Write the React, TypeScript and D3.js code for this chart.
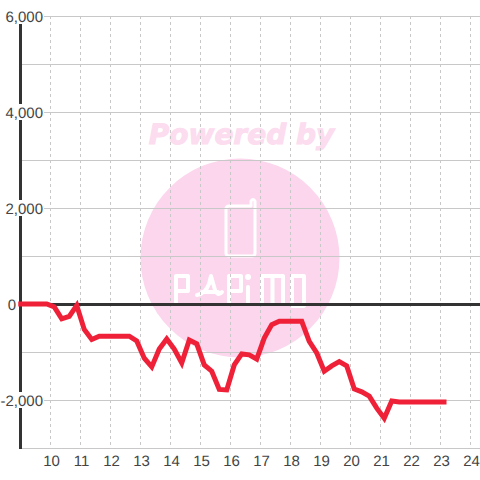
import React from "react";
import * as d3 from "d3";

const hours = [8.925, 9.875, 10.125, 10.375, 10.625, 10.875, 11.125, 11.375, 11.625, 12.625, 12.875, 13.125, 13.375, 13.625, 13.875, 14.125, 14.375, 14.625, 14.875, 15.125, 15.375, 15.625, 15.875, 16.125, 16.375, 16.625, 16.875, 17.125, 17.375, 17.625, 18.375, 18.625, 18.875, 19.125, 19.375, 19.625, 19.875, 20.125, 20.375, 20.625, 20.875, 21.125, 21.375, 21.625, 23.2];
const profit = [0, 0, -60, -310, -260, -30, -530, -740, -670, -670, -770, -1130, -1310, -940, -730, -940, -1230, -750, -830, -1270, -1400, -1780, -1790, -1270, -1040, -1060, -1150, -710, -430, -360, -360, -780, -1020, -1400, -1290, -1200, -1290, -1770, -1830, -1920, -2170, -2380, -2020, -2040, -2040];
const yTicks = [6000, 4000, 2000, 0, -2000];
const yGrid = [6000, 5000, 4000, 3000, 2000, 1000, -1000, -2000, -3000];
const xTicks = [10, 11, 12, 13, 14, 15, 16, 17, 18, 19, 20, 21, 22, 23, 24];

const x = d3.scaleLinear().domain([10, 24]).range([50.5, 470.5]);
const y = d3.scaleLinear().domain([0, 6000]).range([304, 16]);
const line = d3.line<number>().x((_, i) => x(hours[i])).y((d) => y(d));
const fmt = d3.format(",");
const FONT = "'Liberation Sans', Arial, sans-serif";
const PINK = "#fbd6ed";

export default function App() {
  return (
    <svg width={480} height={480} textRendering="geometricPrecision" style={{ position: "fixed", left: 0, top: 0, background: "#fff" }}>
      <circle cx={240} cy={258} r={99.5} fill={PINK} />
      <text x={241.5} y={144} textAnchor="middle" fontFamily="'DejaVu Sans', sans-serif" fontSize={28} fontWeight="bold" fontStyle="italic" fill="#fcdcef" stroke="#fcdcef" strokeWidth={1}>Powered by</text>
      <g fill="none" stroke="#fff" strokeLinejoin="round" strokeLinecap="round">
        <path strokeWidth={3} d="M229 206H251V201Q253 198 255 201V253Q255 256 252 256H229Q226 256 226 253V209Q226 206 229 206Z" />
        <path strokeWidth={4} d="M176 304V276H188V291H176M197 295Q205 294 209 284L211 276L215 290Q218 297 222 292M202 292H218M229 304V276H241V291H229M248 304V287M262 304V276H283V304M272.5 276V304M292 276H304V306H292Z" />
        <circle cx={248} cy={277} r={3} fill="#fff" stroke="none" />
      </g>
      {yGrid.map((v) => <line key={v} x1={20} x2={480} y1={y(v) + 0.5} y2={y(v) + 0.5} stroke="#c8c8c8" strokeWidth={1} />)}
      {xTicks.map((h) => <line key={h} x1={x(h)} x2={x(h)} y1={16} y2={448} stroke="#c8c8c8" strokeWidth={1} strokeDasharray="3 3" />)}
      <line x1={20.5} x2={20.5} y1={24} y2={449} stroke="#333" strokeWidth={3} />
      <line x1={20} x2={480} y1={304.5} y2={304.5} stroke="#333" strokeWidth={3} />
      {yTicks.map((v) => {
        const s = fmt(v).replace("\u2212", "-");
        const right = v === 0 ? 16 : 43;
        return (
          <g key={v}>
            <rect x={2} y={y(v) - 8} width={right - 1} height={16} fill="#fff" />
            <text x={right} y={y(v) + 6} textAnchor="end" fontFamily={FONT} fontSize={15} fill="#444">{s}</text>
          </g>
        );
      })}
      {xTicks.map((h) => <text key={h} x={x(h) + 1} y={466} textAnchor="middle" fontFamily={FONT} fontSize={15} fill="#444">{h}</text>)}
      <path d={line(profit) ?? ""} fill="none" stroke="#ef2139" strokeWidth={5} strokeLinejoin="miter" />
    </svg>
  );
}
